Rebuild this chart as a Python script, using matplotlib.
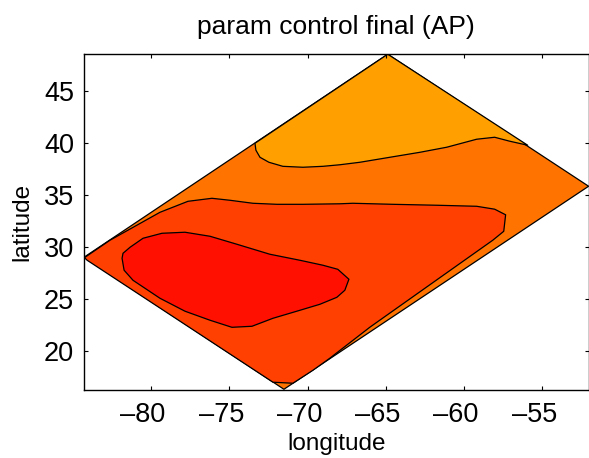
import matplotlib
matplotlib.use('Agg')
import matplotlib.pyplot as plt
from matplotlib.transforms import ScaledTranslation

plt.rcParams['font.family'] = ['Liberation Sans', 'DejaVu Sans']

outer_lon = [-84.28, -64.88, -52.05, -71.51]
outer_lat = [28.99, 48.55, 35.83, 16.27]

top_lon = [-73.36, -73.30, -73.04, -72.47, -71.58, -70.30, -69.02, -67.94, -66.66, -64.75,
           -62.83, -61.11, -59.20, -58.05, -57.09, -55.94, -64.88]
top_lat = [39.97, 39.30, 38.62, 38.14, 37.75, 37.66, 37.75, 37.90, 38.14, 38.62,
           39.10, 39.59, 40.36, 40.55, 40.17, 39.78, 48.55]

mid_lon = [-84.25, -82.62, -79.43, -77.64, -76.11, -74.96, -73.49, -71.96, -70.30, -67.94,
           -67.11, -64.56, -61.75, -59.20, -58.05, -57.35, -57.47, -58.17, -66.02, -68.58,
           -69.66, -70.94, -72.21, -84.08]
mid_lat = [28.95, 30.63, 33.32, 34.38, 34.67, 34.48, 34.19, 34.09, 34.09, 34.14,
           34.19, 34.09, 34.00, 33.90, 33.62, 33.08, 31.49, 30.63, 22.25, 19.26,
           18.10, 16.85, 16.95, 28.70]

core_lon = [-81.85, -81.72, -81.15, -79.43, -77.83, -76.23, -74.83, -73.55, -72.21, -70.49,
            -69.21, -68.13, -67.62, -67.36, -68.07, -69.02, -70.49, -72.41, -74.51, -76.23,
            -77.83, -79.30, -80.51, -81.34, -81.79]
core_lat = [28.89, 27.74, 26.77, 25.04, 23.79, 22.92, 22.24, 22.34, 23.11, 23.88,
            24.46, 25.13, 25.81, 26.87, 27.83, 28.22, 28.70, 29.28, 30.24, 31.01,
            31.40, 31.30, 30.82, 29.95, 29.37]

x_ticks = [-80, -75, -70, -65, -60, -55]
x_tick_labels = ['\u201380', '\u201375', '\u201370', '\u201365', '\u201360', '\u201355']
y_ticks = [20, 25, 30, 35, 40, 45]

fig = plt.figure(figsize=(5.89, 4.58), dpi=100)
ax = fig.add_axes([83.7 / 589, 1 - 390 / 458, (588.6 - 83.7) / 589, (390 - 53.7) / 458])

regions = [(outer_lon, outer_lat, '#ff7300'),
           (top_lon, top_lat, '#ff9f00'),
           (mid_lon, mid_lat, '#ff4000'),
           (core_lon, core_lat, '#ff1000')]
for lon, lat, colour in regions:
    ax.fill(lon, lat, facecolor=colour, edgecolor='black', linewidth=0.9, joinstyle='round')

ax.set_xlim(-84.3, -52.05)
ax.set_ylim(16.2, 48.6)
ax.set_xticks(x_ticks)
ax.set_xticklabels(x_tick_labels)
ax.set_yticks(y_ticks)
ax.tick_params(direction='in', top=True, right=True, length=3, width=0.8, labelsize=19.5)
ax.tick_params(axis='x', pad=9)
ax.tick_params(axis='y', pad=7)
for spine in ax.spines.values():
    spine.set_linewidth(1.0)

# labels in the original sit a bit left of their ticks
for label in ax.get_xticklabels():
    label.set_transform(label.get_transform() + ScaledTranslation(-8 / 100, 0, fig.dpi_scale_trans))

ax.set_xlabel('longitude', fontsize=17.5, labelpad=3.5)
ax.set_ylabel('latitude', fontsize=17.5, labelpad=7.5)
ax.set_title('param control final (AP)', fontsize=19, pad=14)

fig.savefig('out.png', dpi=100)
